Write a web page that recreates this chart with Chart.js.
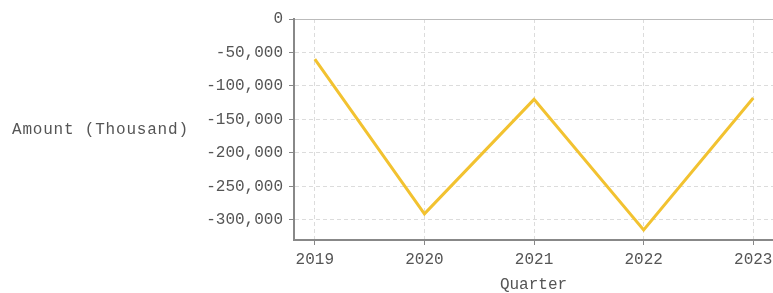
<!DOCTYPE html>
<html>
<head>
<meta charset="utf-8">
<script src="https://cdn.jsdelivr.net/npm/chart.js@4"></script>
<style>
html,body{margin:0;padding:0;background:#fff;}
#wrap{width:773px;height:293px;position:relative;}
</style>
</head>
<body>
<div id="wrap"><canvas id="c"></canvas></div>
<script>
const years = [2019, 2020, 2021, 2022, 2023];
const amounts = [-60000, -291000, -120000, -315000, -118000];
const yTicks = [0, -50000, -100000, -150000, -200000, -250000, -300000];
const yTitle = 'Amount (Thousand)';
const xTitle = 'Quarter';

const FONT = '"Liberation Mono", "DejaVu Sans Mono", monospace';
const TXT = '#555';

const yTitlePlugin = {
  id: 'yTitle',
  afterDraw(chart) {
    const {ctx, chartArea} = chart;
    ctx.save();
    ctx.font = '16px ' + FONT;
    ctx.fillStyle = TXT;
    ctx.textAlign = 'left';
    ctx.textBaseline = 'middle';
    if ('letterSpacing' in ctx) ctx.letterSpacing = '0.8px';
    ctx.fillText(yTitle, 12, (chartArea.top + chartArea.bottom) / 2);
    ctx.restore();
  }
};

new Chart(document.getElementById('c'), {
  type: 'line',
  data: {
    datasets: [{
      data: years.map((y, i) => ({x: y, y: amounts[i]})),
      borderColor: '#F2C230',
      borderWidth: 3,
      pointRadius: 0,
      fill: false,
      tension: 0
    }]
  },
  options: {
    responsive: true,
    maintainAspectRatio: false,
    animation: false,
    layout: {padding: {top: 19, right: 0, left: 0, bottom: 0}},
    plugins: {legend: {display: false}, tooltip: {enabled: false}},
    scales: {
      x: {
        type: 'linear',
        min: 2018.81,
        max: 2023.18,
        afterBuildTicks(scale) { scale.ticks = years.map(v => ({value: v})); },
        afterFit(scale) { scale.height = 53; scale.paddingRight = 0; scale.paddingLeft = 0; },
        ticks: {
          font: {family: FONT, size: 16},
          color: TXT,
          padding: 5,
          maxRotation: 0,
          autoSkip: false,
          callback: v => String(v)
        },
        grid: {color: '#dcdcdc', tickColor: '#888', tickLength: 5, lineWidth: 1},
        border: {display: true, color: '#888', width: 2, dash: [4, 3]},
        title: {display: true, text: xTitle, color: TXT, font: {family: FONT, size: 16, lineHeight: 1}, padding: 0}
      },
      y: {
        type: 'linear',
        min: -330000,
        max: 0,
        afterBuildTicks(scale) { scale.ticks = yTicks.map(v => ({value: v})); },
        afterFit(scale) { scale.width = 294; },
        ticks: {
          font: {family: FONT, size: 16},
          color: TXT,
          padding: 6,
          callback: v => v.toLocaleString('en-US')
        },
        grid: {
          color: ctx => (ctx.tick && ctx.tick.value === 0) ? '#bbb' : '#dcdcdc',
          tickColor: '#888', tickLength: 5, lineWidth: 1
        },
        border: {display: true, color: '#888', width: 2, dash: ctx => (ctx.tick && ctx.tick.value === 0) ? [] : [4, 3]}
      }
    }
  },
  plugins: [yTitlePlugin]
});
</script>
</body>
</html>
